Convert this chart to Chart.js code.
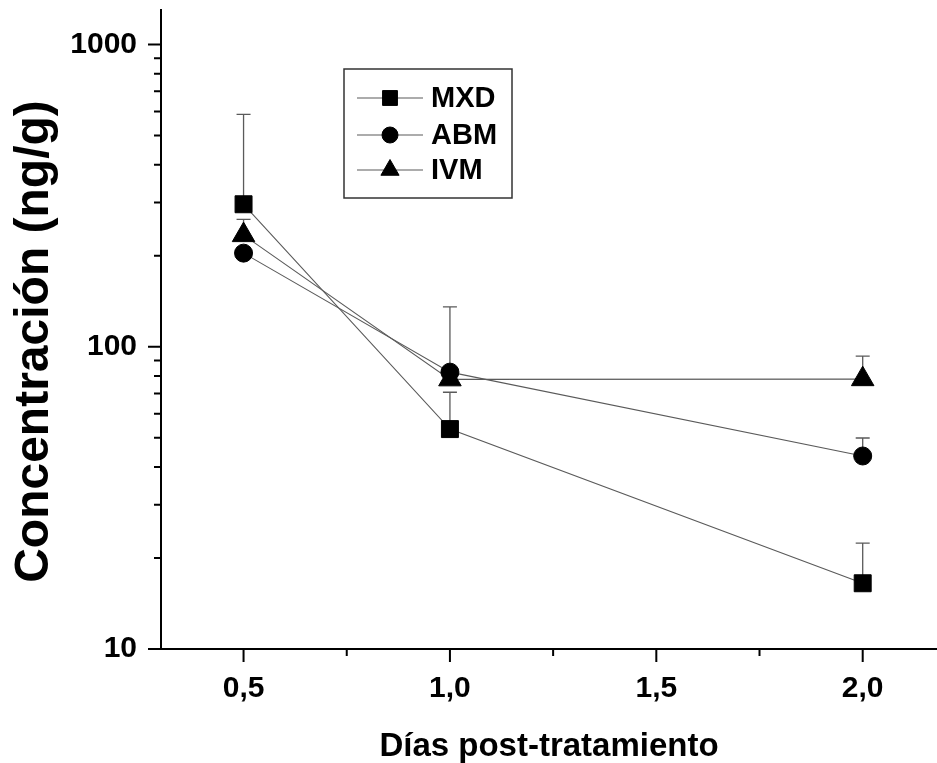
<!DOCTYPE html>
<html><head><meta charset="utf-8">
<script src="https://cdn.jsdelivr.net/npm/chart.js@4/dist/chart.umd.min.js"></script>
<style>html,body{margin:0;padding:0;background:#fff;}#wrap{width:937px;height:763px;}</style>
</head><body><div id="wrap"><canvas id="c" width="937" height="763"></canvas></div>
<script>
// ---- data ----
const days = [0.5, 1.0, 2.0];
const seriesNames = ['MXD', 'ABM', 'IVM'];
const mxd = [296, 53.4, 16.5];
const abm = [204, 82.4, 43.5];
const ivm = [234, 78, 78.1];
const mxdErr = [291, 17.3, 5.9];
const abmErr = [null, 53, 6.4];
const ivmErr = [30, null, 15];
const xMajorTicks = [0.5, 1.0, 1.5, 2.0];
const xMinorTicks = [0.75, 1.25, 1.75];
const yMajorTicks = [10, 100, 1000];
const yMinorTicks = [20, 30, 40, 50, 60, 70, 80, 90, 200, 300, 400, 500, 600, 700, 800, 900];
const xTitle = 'Días post-tratamiento';
const yTitle = 'Concentración (ng/g)';

const FONT = "'Liberation Sans', Arial, sans-serif";
const styles = [
  {pointStyle: 'rect', radius: 12, legendRadius: 10.5},
  {pointStyle: 'circle', radius: 9, legendRadius: 8},
  {pointStyle: 'triangle', radius: 13, legendRadius: 10.5}
];
const values = [mxd, abm, ivm];
const errors = [mxdErr, abmErr, ivmErr];

const datasets = seriesNames.map((name, i) => ({
  label: name,
  data: days.map((d, j) => ({x: d, y: values[i][j]})),
  errs: errors[i],
  borderColor: '#5a5a5a',
  borderWidth: 1.1,
  backgroundColor: '#000',
  pointStyle: styles[i].pointStyle,
  pointRadius: styles[i].radius,
  pointBackgroundColor: '#000',
  pointBorderColor: '#000',
  pointBorderWidth: 1,
  tension: 0,
  fill: false
}));

const errorBarPlugin = {
  id: 'errorBars',
  beforeDatasetsDraw(chart) {
    const {ctx, scales: {x, y}} = chart;
    ctx.save();
    ctx.strokeStyle = '#5a5a5a';
    ctx.lineWidth = 1.3;
    chart.data.datasets.forEach(ds => {
      ds.data.forEach((p, j) => {
        const e = ds.errs[j];
        if (e == null) return;
        const px = x.getPixelForValue(p.x);
        const py = y.getPixelForValue(p.y);
        const pt = y.getPixelForValue(p.y + e);
        ctx.beginPath();
        ctx.moveTo(px, py); ctx.lineTo(px, pt);
        ctx.moveTo(px - 7, pt); ctx.lineTo(px + 7, pt);
        ctx.stroke();
      });
    });
    ctx.restore();
  }
};

const tickPlugin = {
  id: 'tickMarks',
  afterDraw(chart) {
    const {ctx, chartArea: a, scales: {x, y}} = chart;
    ctx.save();
    ctx.strokeStyle = '#000';
    ctx.lineWidth = 2;
    ctx.beginPath();
    xMajorTicks.forEach(v => { const p = x.getPixelForValue(v); ctx.moveTo(p, a.bottom); ctx.lineTo(p, a.bottom + 13); });
    xMinorTicks.forEach(v => { const p = x.getPixelForValue(v); ctx.moveTo(p, a.bottom); ctx.lineTo(p, a.bottom + 7); });
    yMajorTicks.forEach(v => { const p = y.getPixelForValue(v); ctx.moveTo(a.left - 13, p); ctx.lineTo(a.left, p); });
    yMinorTicks.forEach(v => { const p = y.getPixelForValue(v); ctx.moveTo(a.left - 7, p); ctx.lineTo(a.left, p); });
    ctx.stroke();
    // y-axis title
    ctx.fillStyle = '#000';
    ctx.font = 'bold 48px ' + FONT;
    ctx.textAlign = 'center';
    ctx.textBaseline = 'middle';
    ctx.translate(35, (a.top + a.bottom) / 2 + 12);
    ctx.rotate(-Math.PI / 2);
    ctx.fillText(yTitle, 0, 0);
    ctx.restore();
  }
};

const legendPlugin = {
  id: 'boxLegend',
  afterDraw(chart) {
    const {ctx, chartArea: a} = chart;
    const bx = a.left + 183, by = a.top + 59, bw = 168, bh = 129;
    ctx.save();
    ctx.strokeStyle = '#333';
    ctx.lineWidth = 1.5;
    ctx.strokeRect(bx, by, bw, bh);
    const rows = [29, 66, 101];
    chart.data.datasets.forEach((ds, i) => {
      const yy = by + rows[i];
      ctx.strokeStyle = '#5a5a5a';
      ctx.lineWidth = 1.1;
      ctx.beginPath(); ctx.moveTo(bx + 13, yy); ctx.lineTo(bx + 79, yy); ctx.stroke();
      ctx.fillStyle = '#000';
      ctx.strokeStyle = '#000';
      ctx.lineWidth = 1;
      Chart.helpers.drawPoint(ctx, {pointStyle: styles[i].pointStyle, radius: styles[i].legendRadius, rotation: 0, borderWidth: 1}, bx + 46, yy);
      ctx.fillStyle = '#000';
      ctx.font = 'bold 29px ' + FONT;
      ctx.textBaseline = 'middle';
      ctx.textAlign = 'left';
      ctx.fillText(ds.label, bx + 87, yy + 1);
    });
    ctx.restore();
  }
};

new Chart(document.getElementById('c'), {
  type: 'line',
  data: {datasets},
  options: {
    responsive: false,
    animation: false,
    layout: {autoPadding: false, padding: {top: 10, right: 0, bottom: 0, left: 0}},
    plugins: {legend: {display: false}, tooltip: {enabled: false}},
    scales: {
      x: {
        type: 'linear', min: 0.3, max: 2.18,
        afterBuildTicks: s => { s.ticks = xMajorTicks.map(v => ({value: v})); },
        afterFit: s => { s.height = 114; s.paddingLeft = 0; s.paddingRight = 0; },
        grid: {display: false, drawTicks: false},
        border: {display: true, color: '#000', width: 2},
        ticks: {
          padding: 22, color: '#000', maxRotation: 0, autoSkip: false,
          font: {family: FONT, weight: 'bold', size: 30},
          callback: v => v.toFixed(1).replace('.', ',')
        },
        title: {display: true, text: xTitle, color: '#000',
          font: {family: FONT, weight: 'bold', size: 33, lineHeight: 1}, padding: {top: 0, bottom: 0}}
      },
      y: {
        type: 'logarithmic', min: 10, max: 1300,
        afterBuildTicks: s => { s.ticks = yMajorTicks.map(v => ({value: v})); },
        afterFit: s => { s.width = 161; s.paddingTop = 0; s.paddingBottom = 0; },
        grid: {display: false, drawTicks: false},
        border: {display: true, color: '#000', width: 2},
        ticks: {
          padding: 24, color: '#000', autoSkip: false,
          font: {family: FONT, weight: 'bold', size: 30},
          callback: v => String(v)
        },
        title: {display: false, text: yTitle}
      }
    }
  },
  plugins: [errorBarPlugin, tickPlugin, legendPlugin]
});
</script></body></html>
